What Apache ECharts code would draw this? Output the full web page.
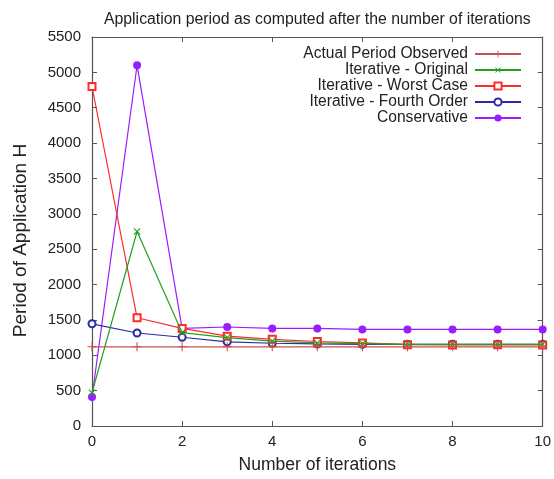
<!DOCTYPE html>
<html><head><meta charset="utf-8">
<script src="https://cdn.jsdelivr.net/npm/echarts@6/dist/echarts.min.js"></script>
<style>html,body{margin:0;padding:0;background:#fff}#c{width:554px;height:479px}</style>
</head><body><div id="c"></div>
<script>
const iterations = [0,1,2,3,4,5,6,7,8,9,10];
const actualPeriod = [1120,1120,1120,1120,1120,1120,1120,1120,1120,1120,1120];
const iterOriginal = [470,2750,1320,1250,1200,1175,1165,1155,1155,1155,1155];
const iterWorst = [4800,1530,1380,1270,1225,1195,1175,1150,1145,1150,1145];
const iterFourth = [1445,1315,1255,1190,1170,1160,1155,1155,1155,1155,1155];
const conservative = [410,5100,1380,1400,1380,1380,1365,1365,1365,1365,1365];
const seriesNames = ['Actual Period Observed','Iterative - Original','Iterative - Worst Case','Iterative - Fourth Order','Conservative'];
const xTicks = {min:0,max:10,interval:2};
const yTicks = {min:0,max:5500,interval:500};

const plus = 'path://M-0.12,-1H0.12V-0.12H1V0.12H0.12V1H-0.12V0.12H-1V-0.12H-0.12Z';
const colors = ['#c85050','#22a022','#ff2a2a','#2a2aa8','#9a1cff'];
const dataSets = [actualPeriod, iterOriginal, iterWorst, iterFourth, conservative];
const symbols = [plus, plus, 'emptyRect', 'emptyCircle', 'circle'];
const symRot = [0, 45, 0, 0, 0];
const symSize = [9, 9, 7, 7, 8];

const FONT = 'Liberation Sans';
const axisCommon = () => ({
  axisLine:{show:true,onZero:false,lineStyle:{color:'#555',width:1.2}},
  axisTick:{show:true,inside:true,length:5,lineStyle:{color:'#555'}},
  splitLine:{show:false}
});
const chart = echarts.init(document.getElementById('c'));
chart.setOption({
  animation:false,
  title:{text:'Application period as computed after the number of iterations',left:99,top:7,
    textStyle:{fontFamily:FONT,fontSize:15.8,fontWeight:'normal',color:'#222'}},
  grid:{left:92,right:11,top:37,bottom:50},
  legend:{orient:'vertical',right:27,top:41,align:'right',itemWidth:46,itemHeight:9,itemGap:0,
    data:seriesNames,
    textStyle:{fontFamily:FONT,fontSize:15.6,lineHeight:16,color:'#222',padding:[0,2,0,0]}},
  xAxis:[
    Object.assign({type:'value',min:xTicks.min,max:xTicks.max,interval:xTicks.interval,position:'bottom',
      name:'Number of iterations',nameLocation:'middle',nameGap:30,
      nameTextStyle:{fontFamily:FONT,fontSize:17.5,color:'#222'},
      axisLabel:{fontFamily:FONT,fontSize:15,color:'#222',margin:8,formatter:v=>String(v)}},axisCommon()),
    Object.assign({type:'value',min:xTicks.min,max:xTicks.max,interval:xTicks.interval,position:'top',
      axisLabel:{show:false}},axisCommon())
  ],
  yAxis:[
    Object.assign({type:'value',min:yTicks.min,max:yTicks.max,interval:yTicks.interval,position:'left',
      name:'Period of Application H',nameLocation:'middle',nameGap:62,
      nameTextStyle:{fontFamily:FONT,fontSize:19,color:'#222',padding:[0,18,0,0]},
      axisLabel:{fontFamily:FONT,fontSize:15,color:'#222',margin:11,formatter:v=>String(v)}},axisCommon()),
    Object.assign({type:'value',min:yTicks.min,max:yTicks.max,interval:yTicks.interval,position:'right',
      axisLabel:{show:false}},axisCommon())
  ],
  series: seriesNames.map((n,i)=>({
    name:n,type:'line',
    data: iterations.map((x,j)=>[x,dataSets[i][j]]),
    symbol:symbols[i],symbolRotate:symRot[i],symbolSize:symSize[i],showAllSymbol:true,
    lineStyle:{color:colors[i],width:1.2},
    itemStyle:{color:colors[i],borderColor:colors[i],borderWidth:i===2||i===3?1.2:0},
    z:10-i
  }))
});
</script></body></html>
